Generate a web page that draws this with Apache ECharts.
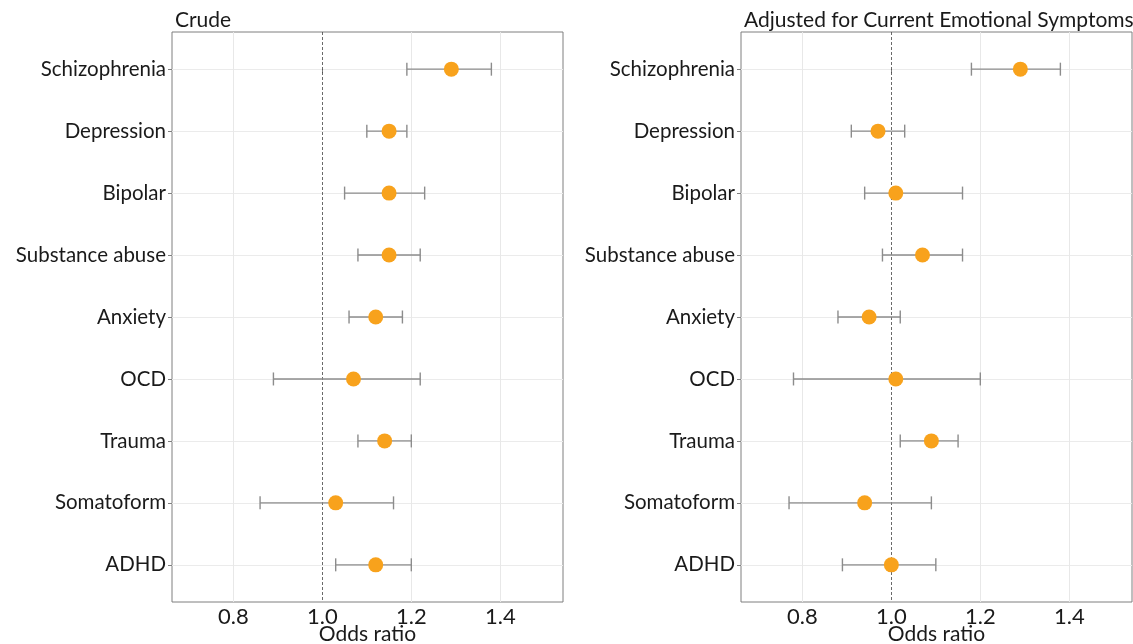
<!DOCTYPE html>
<html>
<head>
<meta charset="utf-8">
<script src="https://cdn.jsdelivr.net/npm/echarts@6/dist/echarts.min.js"></script>
<style>
  html, body { margin: 0; padding: 0; background: #fff; }
  #chart { width: 1133px; height: 644px; }
</style>
</head>
<body>
<div id="chart"></div>
<script>
// data (top to bottom)
const categories = ["Schizophrenia", "Depression", "Bipolar", "Substance abuse", "Anxiety", "OCD", "Trauma", "Somatoform", "ADHD"];
const crudeOR = [1.29, 1.15, 1.15, 1.15, 1.12, 1.07, 1.14, 1.03, 1.12];
const crudeLow = [1.19, 1.10, 1.05, 1.08, 1.06, 0.89, 1.08, 0.86, 1.03];
const crudeHigh = [1.38, 1.19, 1.23, 1.22, 1.18, 1.22, 1.20, 1.16, 1.20];
const adjOR = [1.29, 0.97, 1.01, 1.07, 0.95, 1.01, 1.09, 0.94, 1.00];
const adjLow = [1.18, 0.91, 0.94, 0.98, 0.88, 0.78, 1.02, 0.77, 0.89];
const adjHigh = [1.38, 1.03, 1.16, 1.16, 1.02, 1.20, 1.15, 1.09, 1.10];
const xTicks = [0.8, 1.0, 1.2, 1.4];
const refLine = 1;
const panelTitles = ["Crude", "Adjusted for Current Emotional Symptoms"];

const FONT = "Lato";
const chart = echarts.init(document.getElementById("chart"));

function xAxisFor(i) {
  return {
    gridIndex: i,
    type: "value",
    min: 0.662,
    max: 1.541,
    name: "Odds ratio",
    nameLocation: "middle",
    nameGap: 22,
    nameMoveOverlap: false,
    nameTextStyle: { fontFamily: FONT, fontSize: 21, color: "#1a1a1a" },
    axisLine: { show: false },
    axisTick: { show: true, length: 4, customValues: xTicks, lineStyle: { color: "#7f7f7f" } },
    axisLabel: {
      customValues: xTicks,
      margin: 4,
      fontFamily: FONT, fontSize: 22, color: "#1a1a1a",
      formatter: (v) => v.toFixed(1),
    },
    splitLine: { show: false },
  };
}

function yAxisFor(i) {
  return {
    gridIndex: i,
    type: "value",
    inverse: true,
    min: -0.6,
    max: 8.6,
    axisLine: { show: false },
    axisTick: { show: true, length: 4, customValues: categories.map((c, k) => k), lineStyle: { color: "#7f7f7f" } },
    axisLabel: {
      customValues: categories.map((c, k) => k),
      margin: 6,
      fontFamily: FONT, fontSize: 20.5, color: "#1a1a1a",
      formatter: (v) => categories[Math.round(v)],
    },
    splitLine: { show: true, lineStyle: { color: "#ebebeb", width: 1 } },
  };
}

function errorBars(i, low, high) {
  return {
    type: "custom",
    xAxisIndex: i,
    yAxisIndex: i,
    silent: true,
    data: categories.map((c, k) => [low[k], high[k], k]),
    renderItem: function (params, api) {
      const a = api.coord([api.value(0), api.value(2)]);
      const b = api.coord([api.value(1), api.value(2)]);
      const h = 6.5;
      const style = { stroke: "#8c8c8c", lineWidth: 1.4 };
      return {
        type: "group",
        children: [
          { type: "line", shape: { x1: a[0], y1: a[1], x2: b[0], y2: b[1] }, style: style },
          { type: "line", shape: { x1: a[0], y1: a[1] - h, x2: a[0], y2: a[1] + h }, style: style },
          { type: "line", shape: { x1: b[0], y1: b[1] - h, x2: b[0], y2: b[1] + h }, style: style },
        ],
      };
    },
    z: 2,
  };
}

function points(i, or) {
  return {
    type: "scatter",
    xAxisIndex: i,
    yAxisIndex: i,
    symbolSize: 15,
    itemStyle: { color: "#f8a21c", opacity: 1 },
    data: categories.map((c, k) => [or[k], k]),
    markLine: {
      silent: true,
      symbol: "none",
      label: { show: false },
      data: xTicks.map((t) => ({
        xAxis: t,
        lineStyle: t === refLine
          ? { color: "#444", type: [3, 2], width: 0.8 }
          : { color: "#e8e8e8", type: "solid", width: 1 },
      })),
      z: 1,
    },
    z: 3,
  };
}

const gridBase = {
  top: 32, width: 391, height: 570,
  show: true, borderColor: "#7f7f7f", borderWidth: 1, backgroundColor: "transparent",
  containLabel: false, outerBoundsMode: "none",
};

chart.setOption({
  animation: false,
  title: [
    { text: panelTitles[0], left: 170, top: 5, textStyle: { fontFamily: FONT, fontSize: 21, fontWeight: "normal", color: "#1a1a1a" } },
    { text: panelTitles[1], left: 739, top: 5, textStyle: { fontFamily: FONT, fontSize: 21, fontWeight: "normal", color: "#1a1a1a" } },
  ],
  grid: [
    Object.assign({ left: 172 }, gridBase),
    Object.assign({ left: 741 }, gridBase),
  ],
  xAxis: [xAxisFor(0), xAxisFor(1)],
  yAxis: [yAxisFor(0), yAxisFor(1)],
  series: [
    errorBars(0, crudeLow, crudeHigh),
    points(0, crudeOR),
    errorBars(1, adjLow, adjHigh),
    points(1, adjOR),
  ],
});

window.addEventListener("resize", function () {
  chart.resize();
});
</script>
</body>
</html>
